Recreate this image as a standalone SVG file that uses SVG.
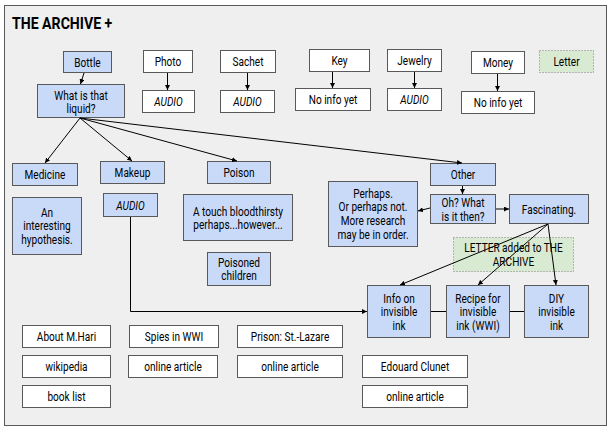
<svg xmlns="http://www.w3.org/2000/svg" width="613" height="431" viewBox="0 0 613 431">
<style>
text{font-family:Roboto,"Liberation Sans",sans-serif;font-size:12px;fill:#000;text-anchor:middle}
.title{font-size:17px;font-weight:bold;text-anchor:start}
.i{font-style:italic}
.b rect{fill:#c9daf8;stroke:#595959;stroke-width:1}
.w rect{fill:#ffffff;stroke:#595959;stroke-width:1}
.g rect{fill:#d9ead3;stroke:#7f7f7f;stroke-width:1;stroke-dasharray:1 2}
.c path{fill:none;stroke:#000;stroke-width:1}
</style>
<defs>
<marker id="a" viewBox="0 0 6 6" refX="6" refY="3" markerWidth="5" markerHeight="5" orient="auto" markerUnits="userSpaceOnUse"><path d="M0,0 L6,3 L0,6 z" fill="#000"/></marker>
</defs>
<rect x="4.5" y="5.5" width="602" height="420" fill="#efefef" stroke="#595959" stroke-width="1"/>
<text class="title" transform="matrix(.83 0 0 1 12 29)">THE ARCHIVE +</text>

<g id="bottle" class="b"><rect x="63.5" y="51.5" width="48" height="21"/><text transform="matrix(.84 0 0 1 87.5 66.5)">Bottle</text></g>
<g id="liquid" class="b"><rect x="37.5" y="84.5" width="87" height="33"/><text transform="matrix(.84 0 0 1 81 99.5)"><tspan x="0">What is that</tspan><tspan x="0" dy="14">liquid?</tspan></text></g>
<g id="photo" class="w"><rect x="143.5" y="50.5" width="49" height="22"/><text transform="matrix(.84 0 0 1 168 66)">Photo</text></g>
<g id="photo-audio" class="w"><rect x="142.5" y="90.5" width="52" height="22"/><text class="i" transform="matrix(.84 0 0 1 168.5 106)">AUDIO</text></g>
<g id="sachet" class="w"><rect x="220.5" y="50.5" width="55" height="22"/><text transform="matrix(.84 0 0 1 248 66)">Sachet</text></g>
<g id="sachet-audio" class="w"><rect x="220.5" y="90.5" width="54" height="22"/><text class="i" transform="matrix(.84 0 0 1 247.5 106)">AUDIO</text></g>
<g id="key" class="w"><rect x="309.5" y="49.5" width="60" height="22"/><text transform="matrix(.84 0 0 1 339.5 65)">Key</text></g>
<g id="key-info" class="w"><rect x="295.5" y="88.5" width="75" height="22"/><text transform="matrix(.84 0 0 1 333 104)">No info yet</text></g>
<g id="jewelry" class="w"><rect x="387.5" y="49.5" width="54" height="22"/><text transform="matrix(.84 0 0 1 414.5 65)">Jewelry</text></g>
<g id="jewelry-audio" class="w"><rect x="387.5" y="88.5" width="54" height="22"/><text class="i" transform="matrix(.84 0 0 1 414.5 104)">AUDIO</text></g>
<g id="money" class="w"><rect x="471.5" y="51.5" width="53" height="22"/><text transform="matrix(.84 0 0 1 498 67)">Money</text></g>
<g id="money-info" class="w"><rect x="461.5" y="91.5" width="73" height="22"/><text transform="matrix(.84 0 0 1 498 107)">No info yet</text></g>
<g id="letter" class="g"><rect x="539.5" y="50.5" width="54" height="22"/><text transform="matrix(.84 0 0 1 566.5 66)">Letter</text></g>

<g id="medicine" class="b"><rect x="12.5" y="163.5" width="65" height="22"/><text transform="matrix(.84 0 0 1 45 179)">Medicine</text></g>
<g id="hypothesis" class="b"><rect x="12.5" y="197.5" width="69" height="57"/><text transform="matrix(.84 0 0 1 47 216.5)"><tspan x="0">An</tspan><tspan x="0" dy="13.8">interesting</tspan><tspan x="0" dy="13.8">hypothesis.</tspan></text></g>
<g id="makeup" class="b"><rect x="100.5" y="161.5" width="64" height="22"/><text transform="matrix(.84 0 0 1 132.5 176.5)">Makeup</text></g>
<g id="makeup-audio" class="b"><rect x="103.5" y="193.5" width="54" height="23"/><text class="i" transform="matrix(.84 0 0 1 130.5 210)">AUDIO</text></g>
<g id="poison" class="b"><rect x="207.5" y="161.5" width="63" height="22"/><text transform="matrix(.84 0 0 1 239 176.5)">Poison</text></g>
<g id="bloodthirsty" class="b"><rect x="183.5" y="194.5" width="109" height="46"/><text transform="matrix(.84 0 0 1 238 215.5)"><tspan x="0">A touch bloodthirsty</tspan><tspan x="0" dy="14">perhaps...however...</tspan></text></g>
<g id="poisoned" class="b"><rect x="207.5" y="252.5" width="63" height="33"/><text transform="matrix(.84 0 0 1 239 266.5)"><tspan x="0">Poisoned</tspan><tspan x="0" dy="14">children</tspan></text></g>
<g id="other" class="b"><rect x="430.5" y="163.5" width="65" height="22"/><text transform="matrix(.84 0 0 1 463 178.5)">Other</text></g>
<g id="ohwhat" class="b"><rect x="430.5" y="194.5" width="65" height="29"/><text transform="matrix(.84 0 0 1 463 206.5)"><tspan x="0">Oh? What</tspan><tspan x="0" dy="14.3">is it then?</tspan></text></g>
<g id="perhaps" class="b"><rect x="328.5" y="181.5" width="89" height="65"/><text transform="matrix(.84 0 0 1 373 197.5)"><tspan x="0">Perhaps.</tspan><tspan x="0" dy="14">Or perhaps not.</tspan><tspan x="0" dy="14">More research</tspan><tspan x="0" dy="14">may be in order.</tspan></text></g>
<g id="fascinating" class="b"><rect x="509.5" y="194.5" width="79" height="29"/><text transform="matrix(.84 0 0 1 549 213.5)">Fascinating.</text></g>
<g id="letter-added" class="g"><rect x="453.5" y="237.5" width="120" height="34"/><text transform="matrix(.84 0 0 1 513.5 252)"><tspan x="0">LETTER added to THE</tspan><tspan x="0" dy="14">ARCHIVE</tspan></text></g>
<g id="info-ink" class="b"><rect x="367.5" y="285.5" width="63" height="52"/><text transform="matrix(.84 0 0 1 399 302.5)"><tspan x="0">Info on</tspan><tspan x="0" dy="14">invisible</tspan><tspan x="0" dy="14">ink</tspan></text></g>
<g id="recipe-ink" class="b"><rect x="446.5" y="285.5" width="63" height="52"/><text transform="matrix(.84 0 0 1 478 302.5)"><tspan x="0">Recipe for</tspan><tspan x="0" dy="14">invisible</tspan><tspan x="0" dy="14">ink (WWI)</tspan></text></g>
<g id="diy-ink" class="b"><rect x="524.5" y="285.5" width="64" height="52"/><text transform="matrix(.84 0 0 1 556.5 302.5)"><tspan x="0">DIY</tspan><tspan x="0" dy="14">invisible</tspan><tspan x="0" dy="14">ink</tspan></text></g>

<g id="about-hari" class="w"><rect x="22.5" y="325.5" width="88" height="22"/><text transform="matrix(.84 0 0 1 66.5 341)">About M.Hari</text></g>
<g id="wikipedia" class="w"><rect x="22.5" y="355.5" width="88" height="22"/><text transform="matrix(.84 0 0 1 66.5 371)">wikipedia</text></g>
<g id="book-list" class="w"><rect x="22.5" y="385.5" width="88" height="22"/><text transform="matrix(.84 0 0 1 66.5 401)">book list</text></g>
<g id="spies" class="w"><rect x="129.5" y="325.5" width="89" height="22"/><text transform="matrix(.84 0 0 1 174 341)">Spies in WWI</text></g>
<g id="spies-article" class="w"><rect x="128.5" y="355.5" width="89" height="22"/><text transform="matrix(.84 0 0 1 173 371)">online article</text></g>
<g id="prison" class="w"><rect x="237.5" y="325.5" width="105" height="22"/><text transform="matrix(.84 0 0 1 290 341)">Prison: St.-Lazare</text></g>
<g id="prison-article" class="w"><rect x="237.5" y="355.5" width="105" height="22"/><text transform="matrix(.84 0 0 1 290 371)">online article</text></g>
<g id="clunet" class="w"><rect x="362.5" y="355.5" width="105" height="22"/><text transform="matrix(.84 0 0 1 415 371)">Edouard Clunet</text></g>
<g id="clunet-article" class="w"><rect x="362.5" y="385.5" width="105" height="22"/><text transform="matrix(.84 0 0 1 415 401)">online article</text></g>

<g id="connectors" class="c">
<path d="M84,73 L80.5,84" marker-end="url(#a)"/>
<path d="M167.5,73 V90" marker-end="url(#a)"/>
<path d="M247.5,73 V90" marker-end="url(#a)"/>
<path d="M332.5,72 V88" marker-end="url(#a)"/>
<path d="M414.5,72 V88" marker-end="url(#a)"/>
<path d="M497.5,74 V91" marker-end="url(#a)"/>
<path d="M80,118 L45,163" marker-end="url(#a)"/>
<path d="M80,118 L132,161" marker-end="url(#a)"/>
<path d="M80,118 L237,161" marker-end="url(#a)"/>
<path d="M80,118 L462,163" marker-end="url(#a)"/>
<path d="M462.5,186 V194" marker-end="url(#a)"/>
<path d="M430,208 L418,211" marker-end="url(#a)"/>
<path d="M496,209 H509" marker-end="url(#a)"/>
<path d="M548,224 L400,285" marker-end="url(#a)"/>
<path d="M548,224 L478,285" marker-end="url(#a)"/>
<path d="M548,224 L556,285" marker-end="url(#a)"/>
<path d="M130.5,217 V311.5 H367" marker-end="url(#a)"/>
<path d="M431,311.5 H446"/>
<path d="M510,311.5 H524"/>
</g>
</svg>
